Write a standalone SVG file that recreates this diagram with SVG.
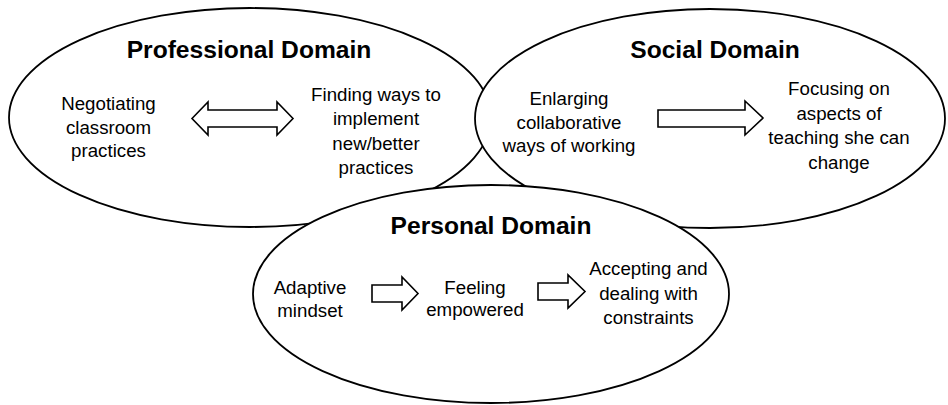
<svg xmlns="http://www.w3.org/2000/svg" width="948" height="405" viewBox="0 0 948 405">
<style>
.dom{fill:#fff;stroke:#000;stroke-width:1.8}
.arr{fill:#fff;stroke:#000;stroke-width:1.6;stroke-linejoin:miter}
.t{font-family:"Liberation Sans",Arial,sans-serif;font-size:18.7px;fill:#000;text-anchor:middle}
.h{font-family:"Liberation Sans",Arial,sans-serif;font-size:24.6px;font-weight:bold;fill:#000;text-anchor:middle}
</style>
<rect width="948" height="405" fill="#fff"/>
<g id="professional">
<ellipse class="dom" cx="250" cy="117.5" rx="241" ry="109.5"/>
<text class="h" x="249" y="58">Professional Domain</text>
<text class="t" x="108.5" y="110">Negotiating</text>
<text class="t" x="108.5" y="133.5">classroom</text>
<text class="t" x="108.5" y="157">practices</text>
<text class="t" x="376" y="100.5">Finding ways to</text>
<text class="t" x="376" y="125">implement</text>
<text class="t" x="376" y="149.5">new/better</text>
<text class="t" x="376" y="174">practices</text>
</g>
<g id="social">
<ellipse class="dom" cx="710" cy="118.5" rx="235" ry="109.5"/>
<text class="h" x="715" y="58">Social Domain</text>
<text class="t" x="569" y="105">Enlarging</text>
<text class="t" x="569" y="128.5">collaborative</text>
<text class="t" x="569" y="152">ways of working</text>
<text class="t" x="839" y="95">Focusing on</text>
<text class="t" x="839" y="119.5">aspects of</text>
<text class="t" x="839" y="144">teaching she can</text>
<text class="t" x="839" y="168.5">change</text>
</g>
<g id="personal">
<ellipse class="dom" cx="491" cy="294" rx="238" ry="109"/>
<text class="h" x="491" y="233.5">Personal Domain</text>
<text class="t" x="310" y="293.5">Adaptive</text>
<text class="t" x="310" y="317">mindset</text>
<text class="t" x="475" y="293.5">Feeling</text>
<text class="t" x="475" y="316">empowered</text>
<text class="t" x="648.5" y="275">Accepting and</text>
<text class="t" x="648.5" y="299.5">dealing with</text>
<text class="t" x="648.5" y="324">constraints</text>
</g>
<g id="connectors">
<polygon class="arr" points="192,118.5 208,102 208,110 277,110 277,102 293,118.5 277,135 277,127 208,127 208,135"/>
<polygon class="arr" points="658,110 745,110 745,101 763,118 745,135 745,127 658,127"/>
<polygon class="arr" points="372,285 402,285 402,277 418,293.5 402,310 402,302 372,302"/>
<polygon class="arr" points="538,283 568,283 568,275 585,291.5 568,308 568,300 538,300"/>
</g>
</svg>
